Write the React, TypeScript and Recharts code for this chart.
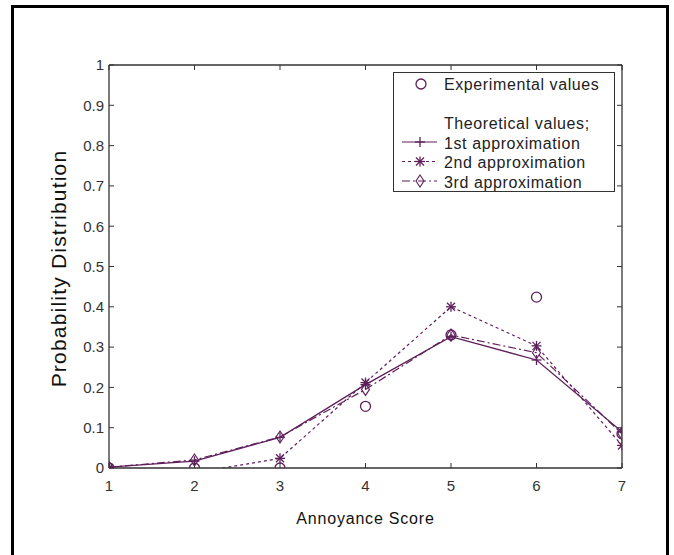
import React from 'react';
import { ComposedChart, Line, XAxis, YAxis, Legend } from 'recharts';

const scores = [1, 2, 3, 4, 5, 6, 7];
const experimental = [0.0, 0.0, 0.0, 0.153, 0.33, 0.424, 0.085];
const approx1 = [0.002, 0.017, 0.076, 0.207, 0.326, 0.268, 0.09];
const approx2 = [0.0, -0.012, 0.024, 0.212, 0.4, 0.303, 0.056];
const approx3 = [0.002, 0.02, 0.077, 0.195, 0.33, 0.286, 0.085];
const xTicks = [1, 2, 3, 4, 5, 6, 7];
const yTicks = [0, 0.1, 0.2, 0.3, 0.4, 0.5, 0.6, 0.7, 0.8, 0.9, 1];

const data = scores.map((s, i) => ({
  score: s,
  exp: experimental[i],
  a1: approx1[i],
  a2: approx2[i],
  a3: approx3[i],
}));

const PURPLE = '#5e1f5b';
const AXIS = '#333';
const FONT = 'Arial, "Liberation Sans", sans-serif';

const PlusDot = (p: any) => {
  const { cx, cy } = p;
  if (cx == null || cy == null || p.value < 0) return null;
  return (
    <g stroke={PURPLE} strokeWidth={1.3}>
      <line x1={cx - 5} y1={cy} x2={cx + 5} y2={cy} />
      <line x1={cx} y1={cy - 5} x2={cx} y2={cy + 5} />
    </g>
  );
};
const StarDot = (p: any) => {
  const { cx, cy } = p;
  if (cx == null || cy == null || p.value < 0) return null;
  return (
    <g stroke={PURPLE} strokeWidth={1.3}>
      <line x1={cx - 5} y1={cy} x2={cx + 5} y2={cy} />
      <line x1={cx} y1={cy - 5} x2={cx} y2={cy + 5} />
      <line x1={cx - 4} y1={cy - 4} x2={cx + 4} y2={cy + 4} />
      <line x1={cx - 4} y1={cy + 4} x2={cx + 4} y2={cy - 4} />
    </g>
  );
};
const DiamondDot = (p: any) => {
  const { cx, cy } = p;
  if (cx == null || cy == null || p.value < 0) return null;
  return (
    <path
      d={`M${cx},${cy - 6}L${cx + 4},${cy}L${cx},${cy + 6}L${cx - 4},${cy}Z`}
      fill="none"
      stroke={PURPLE}
      strokeWidth={1.1}
    />
  );
};
const CircleDot = (p: any) => {
  const { cx, cy } = p;
  if (cx == null || cy == null) return null;
  return <circle cx={cx} cy={cy} r={5} fill="none" stroke={PURPLE} strokeWidth={1.3} />;
};

const legendRows = [
  { label: '1st approximation', dash: undefined, Dot: PlusDot },
  { label: '2nd approximation', dash: '3 3', Dot: StarDot },
  { label: '3rd approximation', dash: '8 3 2 3', Dot: DiamondDot },
];

const LegendBox = () => (
  <div
    style={{
      width: 220,
      height: 118,
      border: '1px solid #333',
      background: '#fff',
      fontFamily: FONT,
      fontSize: 16,
      letterSpacing: 0.6,
      color: '#222',
      position: 'relative',
    }}
  >
    <svg width={50} height={118} style={{ position: 'absolute', left: 0, top: 0 }}>
      <CircleDot cx={27} cy={11} />
      {legendRows.map((r, i) => {
        const y = 69 + i * 19.5;
        return (
          <g key={r.label}>
            <line x1={8} y1={y} x2={43} y2={y} stroke={PURPLE} strokeWidth={1.2} strokeDasharray={r.dash} />
            <r.Dot cx={26} cy={y} value={1} />
          </g>
        );
      })}
    </svg>
    <div style={{ position: 'absolute', left: 50, top: 2, lineHeight: '19.5px', whiteSpace: 'nowrap' }}>
      <div>Experimental values</div>
      <div>&nbsp;</div>
      <div>Theoretical values;</div>
      <div>1st approximation</div>
      <div>2nd approximation</div>
      <div>3rd approximation</div>
    </div>
  </div>
);

const YLabel = (props: any) => {
  const vb = props.viewBox || {};
  const x = 60;
  const y = vb.y + vb.height / 2 + 2;
  return (
    <text
      x={x}
      y={y}
      transform={`rotate(-90, ${x}, ${y})`}
      textAnchor="middle"
      dominantBaseline="middle"
      fontFamily={FONT}
      fontSize={21}
      letterSpacing={1.2}
      fill="#111"
    >
      Probability Distribution
    </text>
  );
};

const XLabel = (props: any) => {
  const vb = props.viewBox || {};
  return (
    <text
      x={vb.x + vb.width / 2}
      y={vb.y + 52}
      textAnchor="middle"
      dominantBaseline="middle"
      fontFamily={FONT}
      fontSize={16}
      letterSpacing={0.8}
      fill="#111"
    >
      Annoyance Score
    </text>
  );
};

export default function App() {
  return (
    <div style={{ position: 'absolute', left: 0, top: 0, width: 674, height: 555, background: '#fff' }}>
      <div
        style={{
          position: 'absolute',
          left: 11,
          top: 5,
          width: 652,
          height: 560,
          borderLeft: '3px solid #000',
          borderTop: '3px solid #000',
          borderRight: '3px solid #000',
        }}
      />
      <ComposedChart
        width={674}
        height={555}
        data={data}
        margin={{ top: 64, left: 108, right: 51, bottom: 86 }}
        style={{ position: 'absolute', left: 0, top: 0 }}
      >
        <XAxis
          dataKey="score"
          type="number"
          domain={[1, 7]}
          ticks={xTicks}
          height={1}
          tickSize={-5}
          tickMargin={17}
          stroke={AXIS}
          axisLine={{ stroke: AXIS, strokeWidth: 1.3 }}
          tick={{ fill: '#333', fontSize: 15, fontFamily: FONT }}
          label={<XLabel />}
          allowDataOverflow
        />
        <XAxis
          xAxisId="top"
          orientation="top"
          dataKey="score"
          type="number"
          domain={[1, 7]}
          ticks={xTicks}
          height={1}
          tickSize={-5}
          tickFormatter={() => ''}
          stroke={AXIS}
          axisLine={{ stroke: AXIS, strokeWidth: 1.3 }}
          allowDataOverflow
        />
        <YAxis
          type="number"
          domain={[0, 1]}
          ticks={yTicks}
          width={1}
          tickSize={-5}
          tickMargin={10}
          stroke={AXIS}
          axisLine={{ stroke: AXIS, strokeWidth: 1.3 }}
          tick={{ fill: '#333', fontSize: 15, fontFamily: FONT }}
          label={<YLabel />}
          allowDataOverflow
        />
        <YAxis
          yAxisId="right"
          orientation="right"
          type="number"
          domain={[0, 1]}
          ticks={yTicks}
          width={1}
          tickSize={-5}
          tickFormatter={() => ''}
          stroke={AXIS}
          axisLine={{ stroke: AXIS, strokeWidth: 1.3 }}
          allowDataOverflow
        />
        <Legend
          layout="vertical"
          align="center"
          verticalAlign="middle"
          content={() => <LegendBox />}
          wrapperStyle={{ position: 'absolute', left: 393, top: 72, width: 222, height: 120 }}
        />
        <Line
          dataKey="a3"
          stroke={PURPLE}
          strokeWidth={1.2}
          strokeDasharray="8 3 2 3"
          dot={<DiamondDot />}
          activeDot={false}
          isAnimationActive={false}
          legendType="none"
        />
        <Line
          dataKey="a2"
          stroke={PURPLE}
          strokeWidth={1.2}
          strokeDasharray="3 3"
          dot={<StarDot />}
          activeDot={false}
          isAnimationActive={false}
          legendType="none"
        />
        <Line
          dataKey="a1"
          stroke={PURPLE}
          strokeWidth={1.3}
          dot={<PlusDot />}
          activeDot={false}
          isAnimationActive={false}
          legendType="none"
        />
        <Line
          dataKey="exp"
          stroke="none"
          dot={<CircleDot />}
          activeDot={false}
          isAnimationActive={false}
          legendType="none"
        />
      </ComposedChart>
    </div>
  );
}
